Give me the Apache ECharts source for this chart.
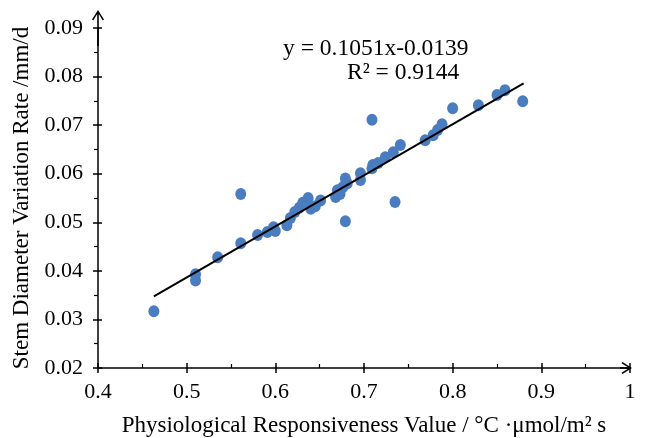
<!DOCTYPE html>
<html>
<head>
<meta charset="utf-8">
<script src="https://cdn.jsdelivr.net/npm/echarts@6/dist/echarts.min.js"></script>
<style>
  html, body { margin: 0; padding: 0; background: #fff; }
  #main { width: 645px; height: 438px; }
</style>
</head>
<body>
<div id="main"></div>
<script>
// measured points (x: responsiveness value, y: stem diameter variation rate)
var xValues = [
  0.463, 0.510, 0.510, 0.535, 0.561, 0.561, 0.580, 0.591, 0.598, 0.600,
  0.613, 0.617, 0.622, 0.627, 0.631, 0.637, 0.640, 0.645, 0.651, 0.668,
  0.670, 0.673, 0.676, 0.679, 0.681, 0.679, 0.696, 0.696, 0.709, 0.710,
  0.709, 0.716, 0.724, 0.733, 0.735, 0.741, 0.769, 0.778, 0.783, 0.788,
  0.800, 0.829, 0.850, 0.859, 0.879
]
var yValues = [
  0.0317, 0.0393, 0.0380, 0.0428, 0.0457, 0.0558, 0.0474, 0.0480, 0.0490, 0.0482,
  0.0494, 0.0509, 0.0521, 0.0530, 0.0540, 0.0550, 0.0528, 0.0533, 0.0545, 0.0552,
  0.0566, 0.0558, 0.0572, 0.0590, 0.0580, 0.0502, 0.0601, 0.0587, 0.0611, 0.0618,
  0.0711, 0.0622, 0.0634, 0.0644, 0.0542, 0.0659, 0.0669, 0.0679, 0.0690, 0.0702,
  0.0735, 0.0741, 0.0762, 0.0772, 0.0749
]
// fitted line from the chart: y = 0.1051x - 0.0139
var slope = 0.1051
var intercept = -0.0139
var trendX = [0.463, 0.88]
var xTicks = { min: 0.4, max: 1, interval: 0.1 }
var yTicks = { min: 0.02, max: 0.09, interval: 0.01 }

var points = xValues.map(function (x, i) { return [x, yValues[i]] })
var trend = trendX.map(function (x) { return [x, slope * x + intercept] })

var serif = '"Liberation Serif", "Times New Roman", serif'
var black = '#000'
// open arrow head with a stem (path points up, echarts turns it along the axis)
var arrowUp = 'path://M6,0 L12,9.5 L10.8,10.5 L6,2.8 L1.2,10.5 L0,9.5 Z M5.2,1.5 L6.8,1.5 L6.8,36 L5.2,36 Z'
var arrowRight = 'path://M6,0 L12,9.5 L10.8,10.5 L6,2.8 L1.2,10.5 L0,9.5 Z M5.2,1.5 L6.8,1.5 L6.8,12 L5.2,12 Z'

var gridBox = { left: 98, right: 15, top: 28, bottom: 70 }

var myChart = echarts.init(document.getElementById('main'))

var option = {
  animation: false,
  grid: {
    left: gridBox.left, right: gridBox.right, top: gridBox.top, bottom: gridBox.bottom,
    containLabel: false,
    outerBoundsMode: 'none'
  },
  xAxis: [
    {
      type: 'value',
      min: xTicks.min, max: xTicks.max, interval: xTicks.interval,
      position: 'bottom',
      splitLine: { show: false },
      axisLine: { show: true, lineStyle: { color: black, width: 1.5 }, symbol: ['none', arrowRight], symbolSize: [12, 12], symbolOffset: [0, -4] },
      axisTick: { show: true, inside: false, length: 5, lineStyle: { color: black, width: 1.5 } },
      axisLabel: { color: black, fontFamily: serif, fontSize: 22, margin: 13 },
      name: 'Physiological Responsiveness Value / °C ·μmol/m² s',
      nameLocation: 'middle',
      nameGap: 46,
      nameTextStyle: { color: black, fontFamily: serif, fontSize: 23 }
    },
    {
      // inner half of the crossing ticks plus the minor ticks
      type: 'value',
      min: xTicks.min, max: xTicks.max, interval: xTicks.interval,
      position: 'bottom',
      splitLine: { show: false },
      axisLine: { show: false },
      axisLabel: { show: false },
      axisTick: { show: true, inside: true, length: 5, lineStyle: { color: black, width: 1.5 } },
      minorTick: { show: true, splitNumber: 2, length: 4, lineStyle: { color: black, width: 1.2 } }
    }
  ],
  yAxis: [
    {
      type: 'value',
      min: yTicks.min, max: yTicks.max, interval: yTicks.interval,
      position: 'left',
      splitLine: { show: false },
      axisLine: { show: true, lineStyle: { color: black, width: 1.5 }, symbol: ['none', arrowUp], symbolSize: [12, 36] },
      axisTick: { show: true, inside: false, length: 5, lineStyle: { color: black, width: 1.5 } },
      minorTick: { show: true, splitNumber: 2, length: 4, lineStyle: { color: black, width: 1.2 } },
      minorSplitLine: { show: false },
      axisLabel: { color: black, fontFamily: serif, fontSize: 22, margin: 15 },
      name: 'Stem Diameter Variation Rate /mm/d',
      nameLocation: 'middle',
      nameGap: 61,
      nameTextStyle: { color: black, fontFamily: serif, fontSize: 23 }
    },
    {
      type: 'value',
      min: yTicks.min, max: yTicks.max, interval: yTicks.interval,
      position: 'left',
      splitLine: { show: false },
      axisLine: { show: false },
      axisLabel: { show: false },
      axisTick: { show: true, inside: true, length: 4, lineStyle: { color: black, width: 1.5 } }
    }
  ],
  graphic: [
    { type: 'text', left: 283, top: 37, style: { text: 'y = 0.1051x-0.0139', fill: black, font: '23.5px ' + serif } },
    { type: 'text', left: 347, top: 61, style: { text: 'R² = 0.9144', fill: black, font: '23.5px ' + serif } }
  ],
  series: [
    {
      name: 'data',
      type: 'scatter',
      data: points,
      symbol: 'circle',
      symbolSize: [11, 12],
      itemStyle: { color: '#4a7dbf', opacity: 1 },
      z: 2
    },
    {
      name: 'trend',
      type: 'line',
      data: trend,
      symbol: 'none',
      lineStyle: { color: black, width: 2 },
      z: 3
    }
  ]
}

myChart.setOption(option)
</script>
</body>
</html>
